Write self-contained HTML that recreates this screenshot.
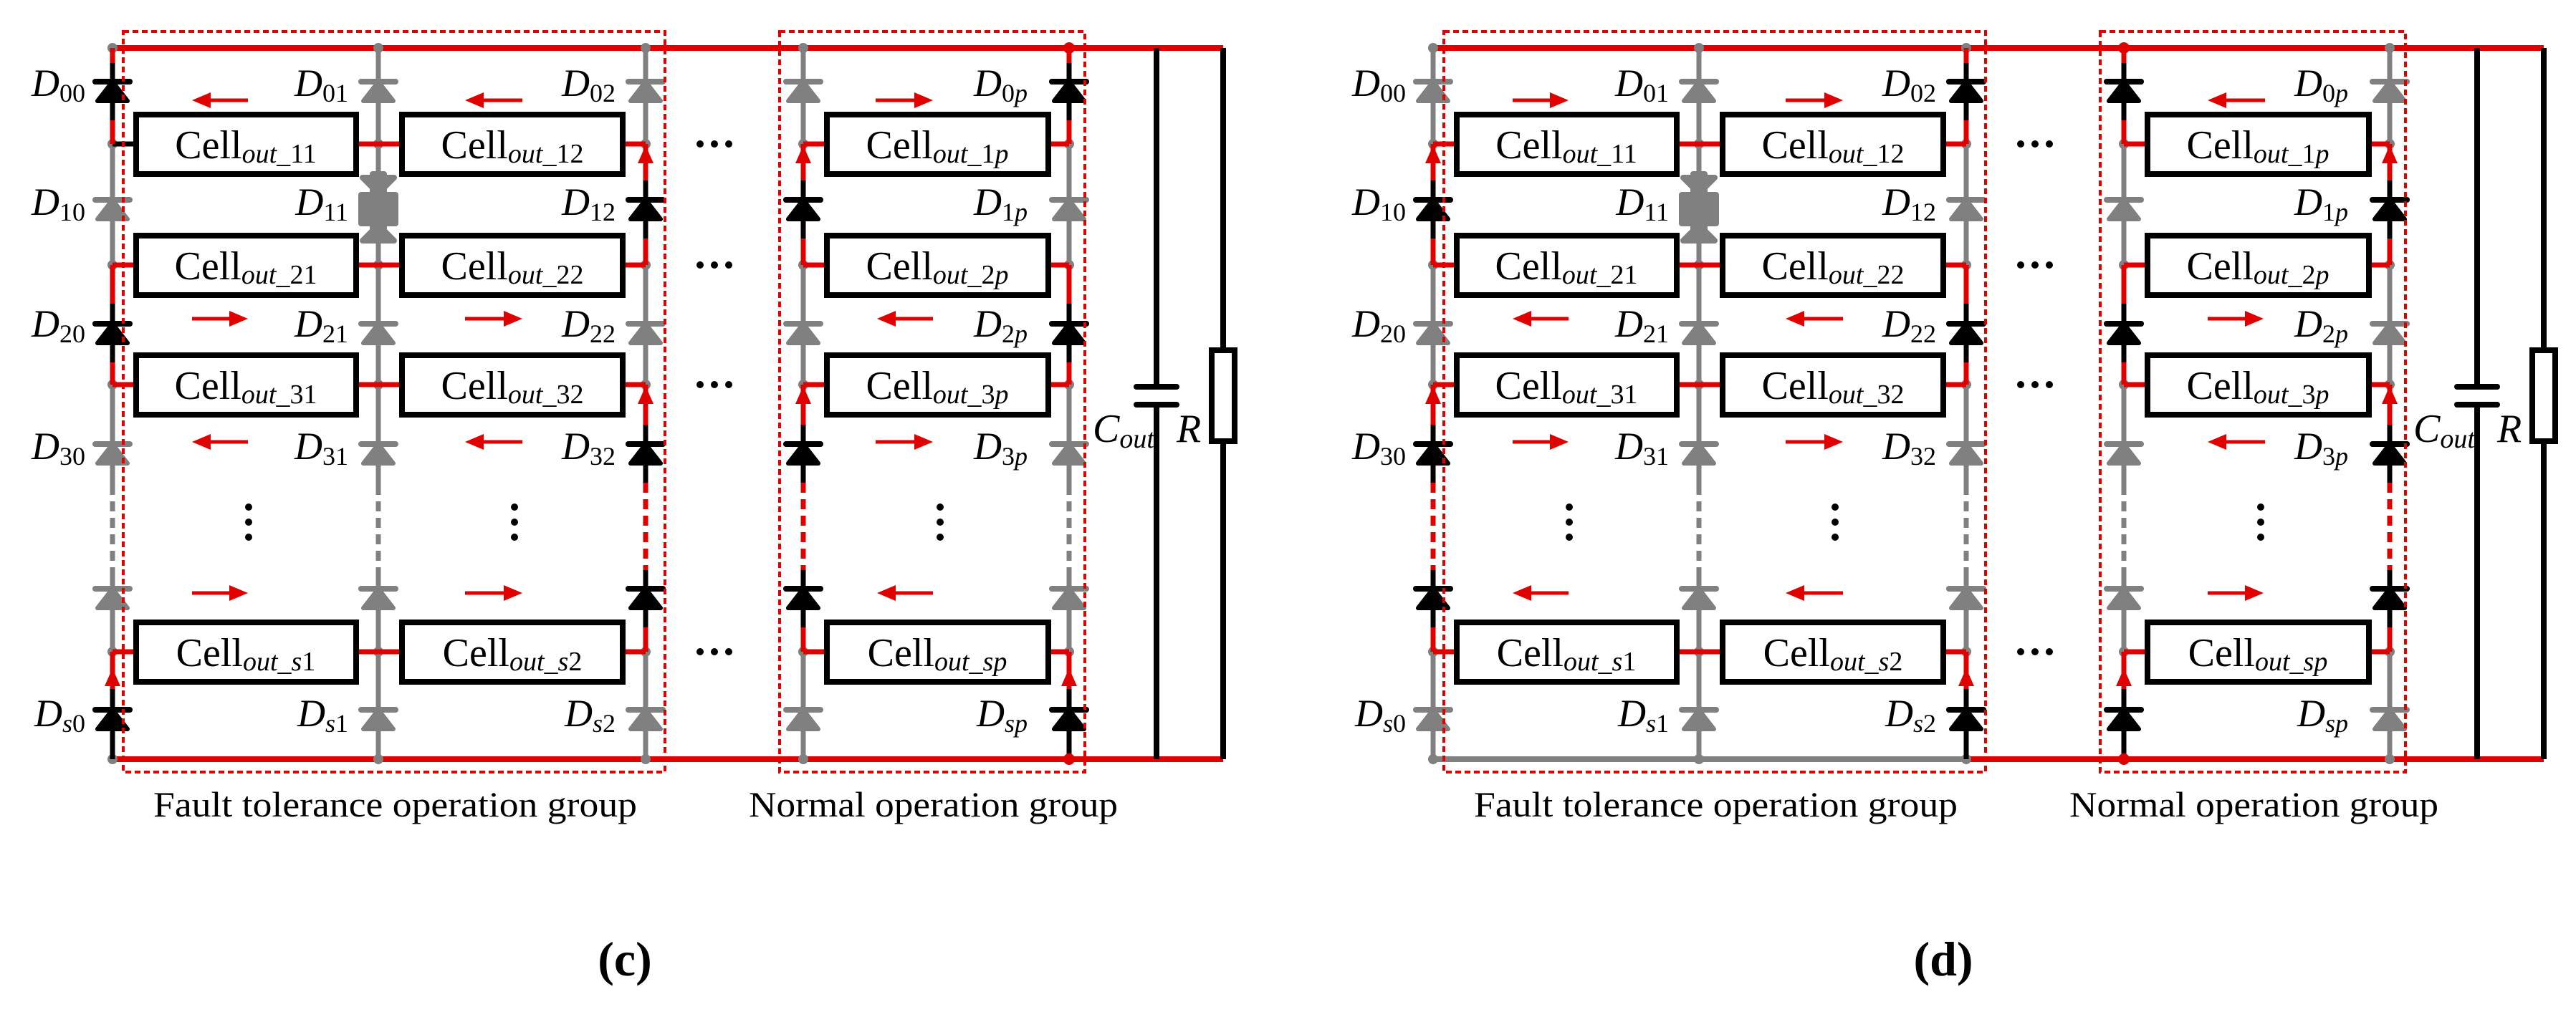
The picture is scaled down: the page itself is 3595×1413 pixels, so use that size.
<!DOCTYPE html>
<html><head><meta charset="utf-8"><style>
html,body{margin:0;padding:0;background:#fff}
svg{display:block}
text,tspan{font-family:"Liberation Serif","DejaVu Serif",serif}
text{fill:#000}
</style></head><body>
<svg width="3595" height="1413" viewBox="0 0 3595 1413" xmlns="http://www.w3.org/2000/svg" font-family="'Liberation Serif', 'DejaVu Serif', serif">
<defs>
<g id="dg"><line x1="-24" y1="-13" x2="24" y2="-13" stroke="#808080" stroke-width="8" stroke-linecap="round"/><polygon points="0,-13 -21,14 21,14" fill="#808080" stroke="#808080" stroke-width="6" stroke-linejoin="round"/></g>
<g id="dk"><line x1="-24" y1="-13" x2="24" y2="-13" stroke="#000" stroke-width="8" stroke-linecap="round"/><polygon points="0,-13 -21,14 21,14" fill="#000" stroke="#000" stroke-width="6" stroke-linejoin="round"/></g>
<polygon id="au" points="0,0 -11,25 11,25" fill="#e10000"/>
<g id="colG">
<line x1="0" y1="67" x2="0" y2="677" stroke="#808080" stroke-width="7"/>
<line x1="0" y1="677" x2="0" y2="796" stroke="#808080" stroke-width="7" stroke-dasharray="14,9"/>
<line x1="0" y1="796" x2="0" y2="1060" stroke="#808080" stroke-width="7"/>
<g fill="#808080"><circle cx="0" cy="67" r="7"/><circle cx="0" cy="201" r="7"/><circle cx="0" cy="370" r="7"/><circle cx="0" cy="537" r="7"/><circle cx="0" cy="910" r="7"/><circle cx="0" cy="1060" r="7"/></g>
<use href="#dg" x="0" y="127"/><use href="#dg" x="0" y="292"/><use href="#dg" x="0" y="465"/><use href="#dg" x="0" y="633"/><use href="#dg" x="0" y="835"/><use href="#dg" x="0" y="1004"/>
</g>
<g id="pA">
<line x1="0" y1="67" x2="0" y2="88" stroke="#e10000" stroke-width="7"/>
<line x1="0" y1="88" x2="0" y2="168" stroke="#000" stroke-width="7"/>
<line x1="0" y1="168" x2="0" y2="201" stroke="#e10000" stroke-width="7"/>
<line x1="0" y1="370" x2="0" y2="424" stroke="#e10000" stroke-width="7"/>
<line x1="0" y1="424" x2="0" y2="506" stroke="#000" stroke-width="7"/>
<line x1="0" y1="506" x2="0" y2="537" stroke="#e10000" stroke-width="7"/>
<line x1="0" y1="910" x2="0" y2="962" stroke="#e10000" stroke-width="7"/>
<line x1="0" y1="962" x2="0" y2="1060" stroke="#000" stroke-width="7"/>
<use href="#dk" x="0" y="127"/><use href="#dk" x="0" y="465"/><use href="#dk" x="0" y="1004"/>
<use href="#au" x="0" y="933"/>
</g>
<g id="pB">
<line x1="0" y1="201" x2="0" y2="252" stroke="#e10000" stroke-width="7"/>
<line x1="0" y1="252" x2="0" y2="333" stroke="#000" stroke-width="7"/>
<line x1="0" y1="333" x2="0" y2="370" stroke="#e10000" stroke-width="7"/>
<line x1="0" y1="537" x2="0" y2="593" stroke="#e10000" stroke-width="7"/>
<line x1="0" y1="593" x2="0" y2="674" stroke="#000" stroke-width="7"/>
<rect x="-5" y="674" width="10" height="122" fill="#fff"/>
<line x1="0" y1="674" x2="0" y2="796" stroke="#e10000" stroke-width="7" stroke-dasharray="14,9"/>
<line x1="0" y1="796" x2="0" y2="876" stroke="#000" stroke-width="7"/>
<line x1="0" y1="876" x2="0" y2="910" stroke="#e10000" stroke-width="7"/>
<use href="#dk" x="0" y="292"/><use href="#dk" x="0" y="633"/><use href="#dk" x="0" y="835"/>
<use href="#au" x="0" y="203"/><use href="#au" x="0" y="539"/>
</g>
<g id="blob" fill="#808080" stroke="#808080" stroke-linejoin="round" stroke-width="8">
<polygon points="0,270 -22,248 22,248"/><polygon points="0,314 -22,336 22,336"/>
<polygon points="-24,272 24,272 24,312 -24,312"/>
<rect x="-8" y="243" width="16" height="90"/>
</g>
<g id="links" stroke="#e10000" stroke-width="7">
<line x1="157" y1="370" x2="190" y2="370"/><line x1="157" y1="537" x2="190" y2="537"/><line x1="157" y1="910" x2="190" y2="910"/>
<line x1="497" y1="201" x2="561" y2="201"/><line x1="497" y1="370" x2="561" y2="370"/><line x1="497" y1="537" x2="561" y2="537"/><line x1="497" y1="910" x2="561" y2="910"/>
<line x1="869" y1="201" x2="901" y2="201"/><line x1="869" y1="370" x2="901" y2="370"/><line x1="869" y1="537" x2="901" y2="537"/><line x1="869" y1="910" x2="901" y2="910"/>
<line x1="1121" y1="201" x2="1154" y2="201"/><line x1="1121" y1="370" x2="1154" y2="370"/><line x1="1121" y1="537" x2="1154" y2="537"/><line x1="1121" y1="910" x2="1154" y2="910"/>
<line x1="1463" y1="201" x2="1492" y2="201"/><line x1="1463" y1="370" x2="1492" y2="370"/><line x1="1463" y1="537" x2="1492" y2="537"/><line x1="1463" y1="910" x2="1492" y2="910"/>
</g>
<g id="cells" fill="#fff" stroke="#000" stroke-width="8">
<rect x="190" y="160" width="307" height="83"/><rect x="561" y="160" width="308" height="83"/><rect x="1154" y="160" width="309" height="83"/>
<rect x="190" y="329" width="307" height="83"/><rect x="561" y="329" width="308" height="83"/><rect x="1154" y="329" width="309" height="83"/>
<rect x="190" y="496" width="307" height="83"/><rect x="561" y="496" width="308" height="83"/><rect x="1154" y="496" width="309" height="83"/>
<rect x="190" y="869" width="307" height="83"/><rect x="561" y="869" width="308" height="83"/><rect x="1154" y="869" width="309" height="83"/>
</g>
<g id="misc">
<g fill="#000">
<circle cx="977" cy="201" r="5"/><circle cx="997" cy="201" r="5"/><circle cx="1017" cy="201" r="5"/>
<circle cx="977" cy="370" r="5"/><circle cx="997" cy="370" r="5"/><circle cx="1017" cy="370" r="5"/>
<circle cx="977" cy="537" r="5"/><circle cx="997" cy="537" r="5"/><circle cx="1017" cy="537" r="5"/>
<circle cx="977" cy="910" r="5"/><circle cx="997" cy="910" r="5"/><circle cx="1017" cy="910" r="5"/>
<circle cx="347" cy="708" r="5"/><circle cx="347" cy="729" r="5"/><circle cx="347" cy="750" r="5"/>
<circle cx="718" cy="708" r="5"/><circle cx="718" cy="729" r="5"/><circle cx="718" cy="750" r="5"/>
<circle cx="1312" cy="708" r="5"/><circle cx="1312" cy="729" r="5"/><circle cx="1312" cy="750" r="5"/>
</g>
<line x1="1614" y1="67" x2="1614" y2="540" stroke="#000" stroke-width="8"/>
<line x1="1614" y1="565" x2="1614" y2="1060" stroke="#000" stroke-width="8"/>
<line x1="1586" y1="540" x2="1642" y2="540" stroke="#000" stroke-width="8" stroke-linecap="round"/>
<line x1="1586" y1="565" x2="1642" y2="565" stroke="#000" stroke-width="8" stroke-linecap="round"/>
<line x1="1707" y1="67" x2="1707" y2="489" stroke="#000" stroke-width="8"/>
<line x1="1707" y1="616" x2="1707" y2="1060" stroke="#000" stroke-width="8"/>
<rect x="1691" y="489" width="32" height="127" fill="#fff" stroke="#000" stroke-width="8"/>
<rect x="172" y="44" width="756" height="1034" fill="none" stroke="#e10000" stroke-width="4" stroke-dasharray="8,5"/>
<rect x="1088" y="44" width="426" height="1034" fill="none" stroke="#e10000" stroke-width="4" stroke-dasharray="8,5"/>
</g>
</defs>

<!-- PANEL C -->
<g>
<line x1="157" y1="67" x2="1707" y2="67" stroke="#e10000" stroke-width="8"/>
<line x1="157" y1="1060" x2="1707" y2="1060" stroke="#e10000" stroke-width="8"/>
<use href="#colG" x="157"/><use href="#colG" x="528"/><use href="#colG" x="901"/><use href="#colG" x="1121"/><use href="#colG" x="1492"/>
<use href="#blob" x="528"/>
<use href="#links"/>
<line x1="157" y1="201" x2="190" y2="201" stroke="#000" stroke-width="7"/>
<use href="#pA" x="157"/><use href="#pB" x="901"/><use href="#pB" x="1121"/><use href="#pA" x="1492"/>
<circle cx="1492" cy="67" r="8" fill="#e10000"/><circle cx="1492" cy="1060" r="8" fill="#e10000"/>
<use href="#cells"/>
<use href="#misc"/>
<g fill="#e10000" stroke="#e10000" stroke-width="5">
<line x1="290" y1="140" x2="346" y2="140"/><polygon points="268,140 294,129 294,151" stroke="none"/>
<line x1="671" y1="140" x2="729" y2="140"/><polygon points="649,140 675,129 675,151" stroke="none"/>
<line x1="268" y1="445" x2="324" y2="445"/><polygon points="346,445 320,434 320,456" stroke="none"/>
<line x1="649" y1="445" x2="707" y2="445"/><polygon points="729,445 703,434 703,456" stroke="none"/>
<line x1="290" y1="617" x2="346" y2="617"/><polygon points="268,617 294,606 294,628" stroke="none"/>
<line x1="671" y1="617" x2="729" y2="617"/><polygon points="649,617 675,606 675,628" stroke="none"/>
<line x1="268" y1="828" x2="324" y2="828"/><polygon points="346,828 320,817 320,839" stroke="none"/>
<line x1="649" y1="828" x2="707" y2="828"/><polygon points="729,828 703,817 703,839" stroke="none"/>
<line x1="1222" y1="140" x2="1280" y2="140"/><polygon points="1302,140 1276,129 1276,151" stroke="none"/>
<line x1="1246" y1="445" x2="1302" y2="445"/><polygon points="1224,445 1250,434 1250,456" stroke="none"/>
<line x1="1222" y1="617" x2="1280" y2="617"/><polygon points="1302,617 1276,606 1276,628" stroke="none"/>
<line x1="1246" y1="828" x2="1302" y2="828"/><polygon points="1224,828 1250,817 1250,839" stroke="none"/>
</g>
<g font-size="54" text-anchor="end">
<text x="119" y="134"><tspan font-style="italic">D</tspan><tspan font-size="36" dy="8">00</tspan></text>
<text x="119" y="300"><tspan font-style="italic">D</tspan><tspan font-size="36" dy="8">10</tspan></text>
<text x="119" y="470"><tspan font-style="italic">D</tspan><tspan font-size="36" dy="8">20</tspan></text>
<text x="119" y="641"><tspan font-style="italic">D</tspan><tspan font-size="36" dy="8">30</tspan></text>
<text x="119" y="1014"><tspan font-style="italic">D</tspan><tspan font-size="36" dy="8" font-style="italic">s</tspan><tspan font-size="36">0</tspan></text>
<text x="486" y="134"><tspan font-style="italic">D</tspan><tspan font-size="36" dy="8">01</tspan></text>
<text x="486" y="300"><tspan font-style="italic">D</tspan><tspan font-size="36" dy="8">11</tspan></text>
<text x="486" y="470"><tspan font-style="italic">D</tspan><tspan font-size="36" dy="8">21</tspan></text>
<text x="486" y="641"><tspan font-style="italic">D</tspan><tspan font-size="36" dy="8">31</tspan></text>
<text x="486" y="1014"><tspan font-style="italic">D</tspan><tspan font-size="36" dy="8" font-style="italic">s</tspan><tspan font-size="36">1</tspan></text>
<text x="859" y="134"><tspan font-style="italic">D</tspan><tspan font-size="36" dy="8">02</tspan></text>
<text x="859" y="300"><tspan font-style="italic">D</tspan><tspan font-size="36" dy="8">12</tspan></text>
<text x="859" y="470"><tspan font-style="italic">D</tspan><tspan font-size="36" dy="8">22</tspan></text>
<text x="859" y="641"><tspan font-style="italic">D</tspan><tspan font-size="36" dy="8">32</tspan></text>
<text x="859" y="1014"><tspan font-style="italic">D</tspan><tspan font-size="36" dy="8" font-style="italic">s</tspan><tspan font-size="36">2</tspan></text>
<text x="1434" y="134"><tspan font-style="italic">D</tspan><tspan font-size="36" dy="8">0</tspan><tspan font-size="36" font-style="italic">p</tspan></text>
<text x="1434" y="300"><tspan font-style="italic">D</tspan><tspan font-size="36" dy="8">1</tspan><tspan font-size="36" font-style="italic">p</tspan></text>
<text x="1434" y="470"><tspan font-style="italic">D</tspan><tspan font-size="36" dy="8">2</tspan><tspan font-size="36" font-style="italic">p</tspan></text>
<text x="1434" y="641"><tspan font-style="italic">D</tspan><tspan font-size="36" dy="8">3</tspan><tspan font-size="36" font-style="italic">p</tspan></text>
<text x="1434" y="1014"><tspan font-style="italic">D</tspan><tspan font-size="36" dy="8" font-style="italic">sp</tspan></text>
</g>
<g font-size="56" text-anchor="middle">
<text x="343" y="221">Cell<tspan font-size="38" font-style="italic" dy="6">out</tspan><tspan font-size="38">_11</tspan></text>
<text x="715" y="221">Cell<tspan font-size="38" font-style="italic" dy="6">out</tspan><tspan font-size="38">_12</tspan></text>
<text x="1308" y="221">Cell<tspan font-size="38" font-style="italic" dy="6">out</tspan><tspan font-size="38">_1</tspan><tspan font-size="38" font-style="italic">p</tspan></text>
<text x="343" y="390">Cell<tspan font-size="38" font-style="italic" dy="6">out</tspan><tspan font-size="38">_21</tspan></text>
<text x="715" y="390">Cell<tspan font-size="38" font-style="italic" dy="6">out</tspan><tspan font-size="38">_22</tspan></text>
<text x="1308" y="390">Cell<tspan font-size="38" font-style="italic" dy="6">out</tspan><tspan font-size="38">_2</tspan><tspan font-size="38" font-style="italic">p</tspan></text>
<text x="343" y="557">Cell<tspan font-size="38" font-style="italic" dy="6">out</tspan><tspan font-size="38">_31</tspan></text>
<text x="715" y="557">Cell<tspan font-size="38" font-style="italic" dy="6">out</tspan><tspan font-size="38">_32</tspan></text>
<text x="1308" y="557">Cell<tspan font-size="38" font-style="italic" dy="6">out</tspan><tspan font-size="38">_3</tspan><tspan font-size="38" font-style="italic">p</tspan></text>
<text x="343" y="930">Cell<tspan font-size="38" font-style="italic" dy="6">out</tspan><tspan font-size="38">_</tspan><tspan font-size="38" font-style="italic">s</tspan><tspan font-size="38">1</tspan></text>
<text x="715" y="930">Cell<tspan font-size="38" font-style="italic" dy="6">out</tspan><tspan font-size="38">_</tspan><tspan font-size="38" font-style="italic">s</tspan><tspan font-size="38">2</tspan></text>
<text x="1308" y="930">Cell<tspan font-size="38" font-style="italic" dy="6">out</tspan><tspan font-size="38" font-style="italic">_sp</tspan></text>
</g>
<text x="1525" y="617" font-size="56" font-style="italic">C<tspan font-size="38" dy="8">out</tspan></text>
<text x="1642" y="617" font-size="56" font-style="italic">R</text>
<text x="214" y="1140" font-size="50" textLength="675" lengthAdjust="spacingAndGlyphs">Fault tolerance operation group</text>
<text x="1045" y="1140" font-size="50" textLength="515" lengthAdjust="spacingAndGlyphs">Normal operation group</text>
<text x="872" y="1362" font-size="68" font-weight="bold" text-anchor="middle">(c)</text>
</g>

<!-- PANEL D -->
<g transform="translate(1843,0)">
<line x1="157" y1="67" x2="1707" y2="67" stroke="#e10000" stroke-width="8"/>
<line x1="157" y1="1060" x2="901" y2="1060" stroke="#808080" stroke-width="8"/>
<line x1="901" y1="1060" x2="1707" y2="1060" stroke="#e10000" stroke-width="8"/>
<use href="#colG" x="157"/><use href="#colG" x="528"/><use href="#colG" x="901"/><use href="#colG" x="1121"/><use href="#colG" x="1492"/>
<use href="#blob" x="528"/>
<use href="#links"/>
<line x1="157" y1="201" x2="190" y2="201" stroke="#e10000" stroke-width="7"/>
<use href="#pB" x="157"/><use href="#pA" x="901"/><use href="#pA" x="1121"/><use href="#pB" x="1492"/>
<circle cx="1121" cy="67" r="8" fill="#e10000"/><circle cx="1121" cy="1060" r="8" fill="#e10000"/>
<use href="#cells"/>
<use href="#misc"/>
<g fill="#e10000" stroke="#e10000" stroke-width="5">
<line x1="268" y1="140" x2="324" y2="140"/><polygon points="346,140 320,129 320,151" stroke="none"/>
<line x1="649" y1="140" x2="707" y2="140"/><polygon points="729,140 703,129 703,151" stroke="none"/>
<line x1="290" y1="445" x2="346" y2="445"/><polygon points="268,445 294,434 294,456" stroke="none"/>
<line x1="671" y1="445" x2="729" y2="445"/><polygon points="649,445 675,434 675,456" stroke="none"/>
<line x1="268" y1="617" x2="324" y2="617"/><polygon points="346,617 320,606 320,628" stroke="none"/>
<line x1="649" y1="617" x2="707" y2="617"/><polygon points="729,617 703,606 703,628" stroke="none"/>
<line x1="290" y1="828" x2="346" y2="828"/><polygon points="268,828 294,817 294,839" stroke="none"/>
<line x1="671" y1="828" x2="729" y2="828"/><polygon points="649,828 675,817 675,839" stroke="none"/>
<line x1="1260" y1="140" x2="1318" y2="140"/><polygon points="1238,140 1264,129 1264,151" stroke="none"/>
<line x1="1238" y1="445" x2="1294" y2="445"/><polygon points="1316,445 1290,434 1290,456" stroke="none"/>
<line x1="1260" y1="617" x2="1318" y2="617"/><polygon points="1238,617 1264,606 1264,628" stroke="none"/>
<line x1="1238" y1="828" x2="1294" y2="828"/><polygon points="1316,828 1290,817 1290,839" stroke="none"/>
</g>
<g font-size="54" text-anchor="end">
<text x="119" y="134"><tspan font-style="italic">D</tspan><tspan font-size="36" dy="8">00</tspan></text>
<text x="119" y="300"><tspan font-style="italic">D</tspan><tspan font-size="36" dy="8">10</tspan></text>
<text x="119" y="470"><tspan font-style="italic">D</tspan><tspan font-size="36" dy="8">20</tspan></text>
<text x="119" y="641"><tspan font-style="italic">D</tspan><tspan font-size="36" dy="8">30</tspan></text>
<text x="119" y="1014"><tspan font-style="italic">D</tspan><tspan font-size="36" dy="8" font-style="italic">s</tspan><tspan font-size="36">0</tspan></text>
<text x="486" y="134"><tspan font-style="italic">D</tspan><tspan font-size="36" dy="8">01</tspan></text>
<text x="486" y="300"><tspan font-style="italic">D</tspan><tspan font-size="36" dy="8">11</tspan></text>
<text x="486" y="470"><tspan font-style="italic">D</tspan><tspan font-size="36" dy="8">21</tspan></text>
<text x="486" y="641"><tspan font-style="italic">D</tspan><tspan font-size="36" dy="8">31</tspan></text>
<text x="486" y="1014"><tspan font-style="italic">D</tspan><tspan font-size="36" dy="8" font-style="italic">s</tspan><tspan font-size="36">1</tspan></text>
<text x="859" y="134"><tspan font-style="italic">D</tspan><tspan font-size="36" dy="8">02</tspan></text>
<text x="859" y="300"><tspan font-style="italic">D</tspan><tspan font-size="36" dy="8">12</tspan></text>
<text x="859" y="470"><tspan font-style="italic">D</tspan><tspan font-size="36" dy="8">22</tspan></text>
<text x="859" y="641"><tspan font-style="italic">D</tspan><tspan font-size="36" dy="8">32</tspan></text>
<text x="859" y="1014"><tspan font-style="italic">D</tspan><tspan font-size="36" dy="8" font-style="italic">s</tspan><tspan font-size="36">2</tspan></text>
<text x="1434" y="134"><tspan font-style="italic">D</tspan><tspan font-size="36" dy="8">0</tspan><tspan font-size="36" font-style="italic">p</tspan></text>
<text x="1434" y="300"><tspan font-style="italic">D</tspan><tspan font-size="36" dy="8">1</tspan><tspan font-size="36" font-style="italic">p</tspan></text>
<text x="1434" y="470"><tspan font-style="italic">D</tspan><tspan font-size="36" dy="8">2</tspan><tspan font-size="36" font-style="italic">p</tspan></text>
<text x="1434" y="641"><tspan font-style="italic">D</tspan><tspan font-size="36" dy="8">3</tspan><tspan font-size="36" font-style="italic">p</tspan></text>
<text x="1434" y="1014"><tspan font-style="italic">D</tspan><tspan font-size="36" dy="8" font-style="italic">sp</tspan></text>
</g>
<g font-size="56" text-anchor="middle">
<text x="343" y="221">Cell<tspan font-size="38" font-style="italic" dy="6">out</tspan><tspan font-size="38">_11</tspan></text>
<text x="715" y="221">Cell<tspan font-size="38" font-style="italic" dy="6">out</tspan><tspan font-size="38">_12</tspan></text>
<text x="1308" y="221">Cell<tspan font-size="38" font-style="italic" dy="6">out</tspan><tspan font-size="38">_1</tspan><tspan font-size="38" font-style="italic">p</tspan></text>
<text x="343" y="390">Cell<tspan font-size="38" font-style="italic" dy="6">out</tspan><tspan font-size="38">_21</tspan></text>
<text x="715" y="390">Cell<tspan font-size="38" font-style="italic" dy="6">out</tspan><tspan font-size="38">_22</tspan></text>
<text x="1308" y="390">Cell<tspan font-size="38" font-style="italic" dy="6">out</tspan><tspan font-size="38">_2</tspan><tspan font-size="38" font-style="italic">p</tspan></text>
<text x="343" y="557">Cell<tspan font-size="38" font-style="italic" dy="6">out</tspan><tspan font-size="38">_31</tspan></text>
<text x="715" y="557">Cell<tspan font-size="38" font-style="italic" dy="6">out</tspan><tspan font-size="38">_32</tspan></text>
<text x="1308" y="557">Cell<tspan font-size="38" font-style="italic" dy="6">out</tspan><tspan font-size="38">_3</tspan><tspan font-size="38" font-style="italic">p</tspan></text>
<text x="343" y="930">Cell<tspan font-size="38" font-style="italic" dy="6">out</tspan><tspan font-size="38">_</tspan><tspan font-size="38" font-style="italic">s</tspan><tspan font-size="38">1</tspan></text>
<text x="715" y="930">Cell<tspan font-size="38" font-style="italic" dy="6">out</tspan><tspan font-size="38">_</tspan><tspan font-size="38" font-style="italic">s</tspan><tspan font-size="38">2</tspan></text>
<text x="1308" y="930">Cell<tspan font-size="38" font-style="italic" dy="6">out</tspan><tspan font-size="38" font-style="italic">_sp</tspan></text>
</g>
<text x="1525" y="617" font-size="56" font-style="italic">C<tspan font-size="38" dy="8">out</tspan></text>
<text x="1642" y="617" font-size="56" font-style="italic">R</text>
<text x="214" y="1140" font-size="50" textLength="675" lengthAdjust="spacingAndGlyphs">Fault tolerance operation group</text>
<text x="1045" y="1140" font-size="50" textLength="515" lengthAdjust="spacingAndGlyphs">Normal operation group</text>
<text x="869" y="1362" font-size="68" font-weight="bold" text-anchor="middle">(d)</text>
</g>
</svg>
</body></html>
